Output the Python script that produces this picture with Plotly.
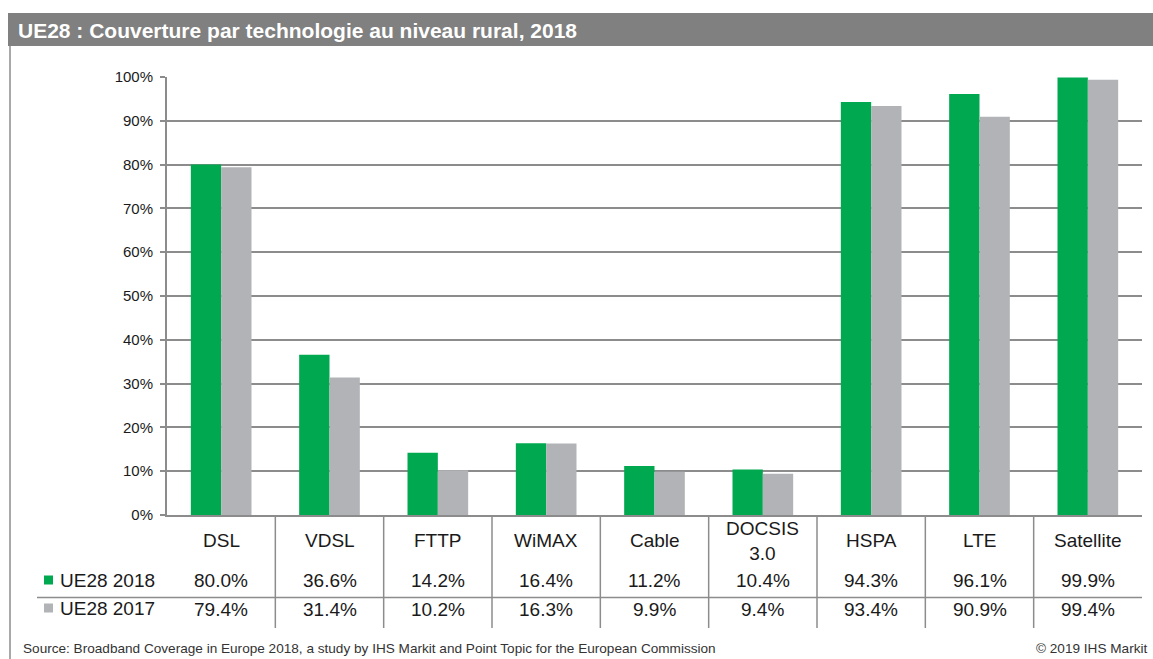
import plotly.graph_objects as go

categories = ["DSL", "VDSL", "FTTP", "WiMAX", "Cable", "DOCSIS<br>3.0", "HSPA", "LTE", "Satellite"]
ue28_2018 = [80.0, 36.6, 14.2, 16.4, 11.2, 10.4, 94.3, 96.1, 99.9]
ue28_2017 = [79.4, 31.4, 10.2, 16.3, 9.9, 9.4, 93.4, 90.9, 99.4]
series_names = ["UE28 2018", "UE28 2017"]
tick_vals = [0, 10, 20, 30, 40, 50, 60, 70, 80, 90, 100]

GREEN = "#00A84F"
GREY = "#B1B3B6"
LINE = "#8C8C8C"
TXT = "#1a1a1a"
FONT = "Liberation Sans, Arial, sans-serif"

W, H = 1153, 659
L, R, T, B = 167, 11, 77, 144
PW, PH = W - L - R, H - T - B


def px(xp):
    return (xp - L) / PW


def py(yp):
    return (H - B - yp) / PH


x_idx = list(range(len(categories)))

fig = go.Figure()
fig.add_bar(x=x_idx, y=ue28_2018, name=series_names[0], marker_color=GREEN, marker_line_width=0)
fig.add_bar(x=x_idx, y=ue28_2017, name=series_names[1], marker_color=GREY, marker_line_width=0)

shapes = []
annotations = []

# title bar
shapes.append(dict(type="rect", xref="paper", yref="paper", x0=px(8), x1=px(1153), y0=py(46), y1=py(13),
                   fillcolor="#808080", line_width=0, layer="below"))
annotations.append(dict(xref="paper", yref="paper", x=px(16), y=py(30), xanchor="left", yanchor="middle",
                        text="<b>UE28 : Couverture par technologie au niveau rural, 2018</b>", showarrow=False,
                        font=dict(family=FONT, size=21, color="white")))
# left border line
shapes.append(dict(type="line", xref="paper", yref="paper", x0=px(10), x1=px(10), y0=py(46), y1=py(659),
                   line=dict(color=LINE, width=1.5)))

# table: vertical dividers between categories
for i in range(1, len(categories)):
    shapes.append(dict(type="line", xref="x", yref="paper", x0=i - 0.5, x1=i - 0.5, y0=0, y1=py(628),
                       line=dict(color=LINE, width=1.5)))
# horizontal divider between rows
shapes.append(dict(type="line", xref="paper", yref="paper", x0=px(37), x1=px(1142), y0=py(597.5), y1=py(597.5),
                   line=dict(color=LINE, width=1.5)))

TS = 19
# category labels and values
for i, c in enumerate(categories):
    yc = 540 if "<br>" not in c else 541
    annotations.append(dict(xref="x", yref="paper", x=i, y=py(yc), text=c, showarrow=False,
                            xanchor="center", yanchor="middle", font=dict(family=FONT, size=TS, color=TXT)))
    annotations.append(dict(xref="x", yref="paper", x=i, y=py(580), text=f"{ue28_2018[i]:.1f}%", showarrow=False,
                            xanchor="center", yanchor="middle", font=dict(family=FONT, size=TS, color=TXT)))
    annotations.append(dict(xref="x", yref="paper", x=i, y=py(609), text=f"{ue28_2017[i]:.1f}%", showarrow=False,
                            xanchor="center", yanchor="middle", font=dict(family=FONT, size=TS, color=TXT)))

# row headers with colour keys
for name, col, yc in [(series_names[0], GREEN, 580), (series_names[1], GREY, 608)]:
    shapes.append(dict(type="rect", xref="paper", yref="paper", x0=px(44), x1=px(53), y0=py(yc + 4.5), y1=py(yc - 4.5),
                       fillcolor=col, line_width=0))
    annotations.append(dict(xref="paper", yref="paper", x=px(58), y=py(yc), text=name, showarrow=False,
                            xanchor="left", yanchor="middle", font=dict(family=FONT, size=TS, color=TXT)))

# footer
annotations.append(dict(xref="paper", yref="paper", x=px(21), y=py(648), xanchor="left", yanchor="middle",
                        text="Source: Broadband Coverage in Europe 2018, a study by IHS Markit and Point Topic for the European Commission",
                        showarrow=False, font=dict(family=FONT, size=13.6, color="#333333")))
annotations.append(dict(xref="paper", yref="paper", x=px(1149), y=py(648), xanchor="right", yanchor="middle",
                        text="© 2019 IHS Markit", showarrow=False, font=dict(family=FONT, size=13.6, color="#333333")))

fig.update_layout(
    width=W, height=H,
    margin=dict(l=L, r=R, t=T, b=B, pad=0),
    paper_bgcolor="white", plot_bgcolor="white",
    barmode="group", bargap=0.44, bargroupgap=0,
    showlegend=False,
    shapes=shapes, annotations=annotations,
    font=dict(family=FONT, color=TXT),
)
fig.update_xaxes(range=[-0.5, len(categories) - 0.5], showticklabels=False, showgrid=False, zeroline=False,
                 showline=True, linecolor=LINE, linewidth=2, ticks="", fixedrange=True)
fig.update_yaxes(range=[0, 100], tickvals=tick_vals, ticktext=[f"{v}%" for v in tick_vals],
                 showgrid=True, gridcolor=LINE, gridwidth=1.5, zeroline=False,
                 showline=True, linecolor=LINE, linewidth=2, ticks="outside", ticklen=5, tickcolor=LINE,
                 tickwidth=1.5, tickfont=dict(family=FONT, size=15, color=TXT), ticklabelstandoff=4)

fig.write_html("out.html", config={"displayModeBar": False},
               post_script="document.body.style.margin='0px';document.body.style.overflow='hidden';")
